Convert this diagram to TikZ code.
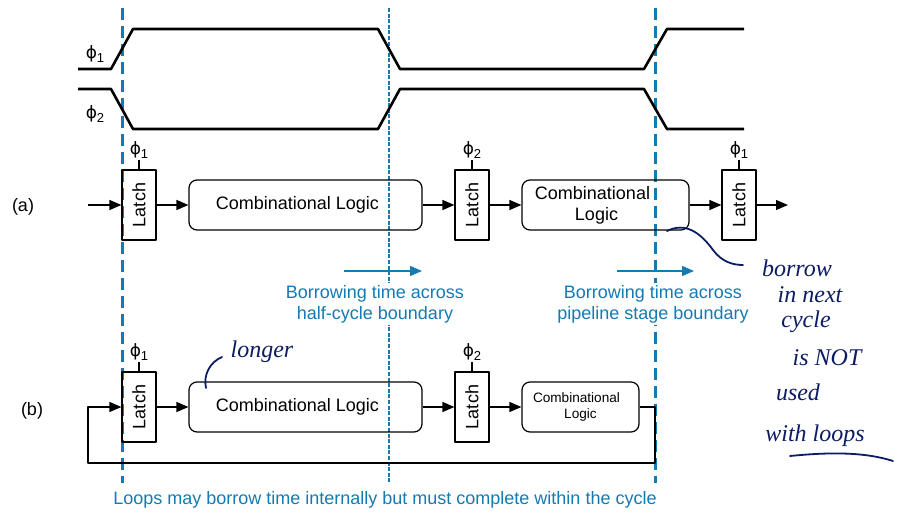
\documentclass[tikz,border=0pt]{standalone}
\usepackage{fontspec}
\setmainfont{Liberation Sans}
\newfontfamily\handfont{Liberation Serif}
\newfontfamily\phifont{DejaVu Sans}
\usetikzlibrary{arrows.meta,positioning}
\definecolor{borrowblue}{RGB}{20,122,178}
\definecolor{inkblue}{RGB}{12,28,98}
\newcommand{\clk}[1]{{\phifont\fontsize{8.5}{10}\selectfont ϕ}\raisebox{-0.45ex}{\fontsize{6.5}{7}\selectfont #1}}
\tikzset{
	latch/.style={draw, line width=0.6pt, minimum width=17pt, minimum height=35pt, inner sep=0pt, font=\fontsize{9}{10}\selectfont},
	logic/.style={draw, rounded corners=4pt, line width=0.6pt, minimum height=25pt, align=center, inner sep=1pt, font=\fontsize{9}{10.5}\selectfont},
	clklabel/.style={inner sep=0.5pt, font=\fontsize{9}{10}\selectfont},
	wave/.style={line width=1.3pt},
	wire/.style={line width=0.6pt, ->},
	cyclebound/.style={borrowblue, line width=1.5pt, dash pattern=on 6pt off 3pt},
	halfbound/.style={borrowblue, line width=0.65pt, dash pattern=on 2pt off 0.8pt},
	borrowarrow/.style={borrowblue, line width=0.75pt, ->},
	borrowtext/.style={borrowblue, align=center, inner sep=1pt, font=\fontsize{9}{10.5}\selectfont},
	ink/.style={inkblue, line width=0.9pt, line cap=round},
	inktext/.style={inkblue, inner sep=0pt, font=\handfont\itshape\fontsize{12}{13}\selectfont}
}
\begin{document}
\begin{tikzpicture}[x=0.5pt, y=-0.5pt, >={Triangle[length=6pt,width=5pt]}, line join=round]
	\useasboundingbox (0,0) rectangle (901,524);
	
	% 1. Cycle boundaries
	\draw[cyclebound] (122,8) -- (122,483);
	\draw[cyclebound] (655,8) -- (655,483);
	\draw[halfbound] (389,8) -- (389,483);
	
	% 2. Clock waveforms
	\draw[wave] (78,69) -- (111,69) -- (133,29) -- (378,29) -- (400,69) -- (644,69) -- (667,29) -- (744,29);
	\draw[wave] (78,89) -- (111,89) -- (133,129) -- (378,129) -- (400,89) -- (644,89) -- (667,129) -- (744,129);
	\node[clklabel] (phiA) at (95,54) {\clk{1}};
	\node[clklabel] (phiB) at (95,114) {\clk{2}};
	
	% 3. Pipeline (a)
	\node[font=\fontsize{9}{10}\selectfont] (tagA) at (23,207) {(a)};
	\node[latch] (la1) at (139,205) {\rotatebox{90}{Latch}};
	\node[logic, minimum width=116.5pt] (ca1) at (305.5,205) {Combinational Logic\hspace*{8pt}};
	\node[latch] (la2) at (472,205) {\rotatebox{90}{Latch}};
	\node[logic, minimum width=83.5pt] (ca2) at (605.5,205) {Combinational\hspace*{13pt}\\Logic\hspace*{9pt}};
	\node[latch] (la3) at (739,205) {\rotatebox{90}{Latch}};
	\draw[line width=0.6pt] (la1.north) -- ++(0,-9) node[clklabel, above] (ka1) {\clk{1}};
	\draw[line width=0.6pt] (la2.north) -- ++(0,-9) node[clklabel, above] (ka2) {\clk{2}};
	\draw[line width=0.6pt] (la3.north) -- ++(0,-9) node[clklabel, above] (ka3) {\clk{1}};
	\coordinate (inA) at (88,205);
	\coordinate (outA) at (788,205);
	\draw[wire] (inA) -- (la1);
	\draw[wire] (la1) -- (ca1);
	\draw[wire] (ca1) -- (la2);
	\draw[wire] (la2) -- (ca2);
	\draw[wire] (ca2) -- (la3);
	\draw[wire] (la3) -- (outA);
	
	% 4. Borrowing arrows and notes
	\coordinate (bwA1) at (344,271);
	\coordinate (bwA2) at (422,271);
	\coordinate (bwB1) at (617,271);
	\coordinate (bwB2) at (694,271);
	\draw[borrowarrow] (bwA1) -- (bwA2);
	\draw[borrowarrow] (bwB1) -- (bwB2);
	\node[borrowtext, fill=white] (btA) at (375,304) {Borrowing time across\\half-cycle boundary};
	\node[borrowtext, fill=white] (btB) at (653,304) {Borrowing time across\\pipeline stage boundary};
	
	% 5. Pipeline (b) with loop
	\node[font=\fontsize{9}{10}\selectfont] (tagB) at (32,411) {(b)};
	\node[latch] (lb1) at (139,407) {\rotatebox{90}{Latch}};
	\node[logic, minimum width=116.5pt] (cb1) at (305.5,407) {Combinational Logic\hspace*{8pt}};
	\node[latch] (lb2) at (472,407) {\rotatebox{90}{Latch}};
	\node[logic, minimum width=58.5pt, font=\fontsize{6.8}{8.3}\selectfont] (cb2) at (580.5,407) {Combinational\hspace*{4pt}\\Logic};
	\draw[line width=0.6pt] (lb1.north) -- ++(0,-9) node[clklabel, above] (kb1) {\clk{1}};
	\draw[line width=0.6pt] (lb2.north) -- ++(0,-9) node[clklabel, above] (kb2) {\clk{2}};
	\coordinate (loopR) at (655,463);
	\coordinate (loopL) at (88,463);
	\draw[wire] (lb1) -- (cb1);
	\draw[wire] (cb1) -- (lb2);
	\draw[wire] (lb2) -- (cb2);
	\draw[wire] (cb2.east) -| (loopR) -- (loopL) |- (lb1.west);
	\node[borrowtext] (btC) at (385,500) {Loops may borrow time internally but must complete within the cycle};
	
	% 6. Handwritten remarks
	\draw[ink] (667,231) .. controls (685,222) and (700,232) .. (713,250) .. controls (722,262) and (733,265) .. (743,265);
	\node[inktext] (nb1) at (797,268) {borrow};
	\node[inktext] (nb2) at (810,295) {in next};
	\node[inktext] (nb3) at (806,322) {cycle};
	\node[inktext] (nb4) at (827,358) {is NOT};
	\node[inktext] (nb5) at (798,392) {used};
	\node[inktext] (nb6) at (815,436) {with loops};
	\draw[ink] (790,456) .. controls (830,452) and (865,452) .. (893,461);
	\draw[ink] (206,388) .. controls (203,375) and (210,362) .. (222,357);
	\node[inktext] (nl) at (262,352) {longer};
\end{tikzpicture}
\end{document}
